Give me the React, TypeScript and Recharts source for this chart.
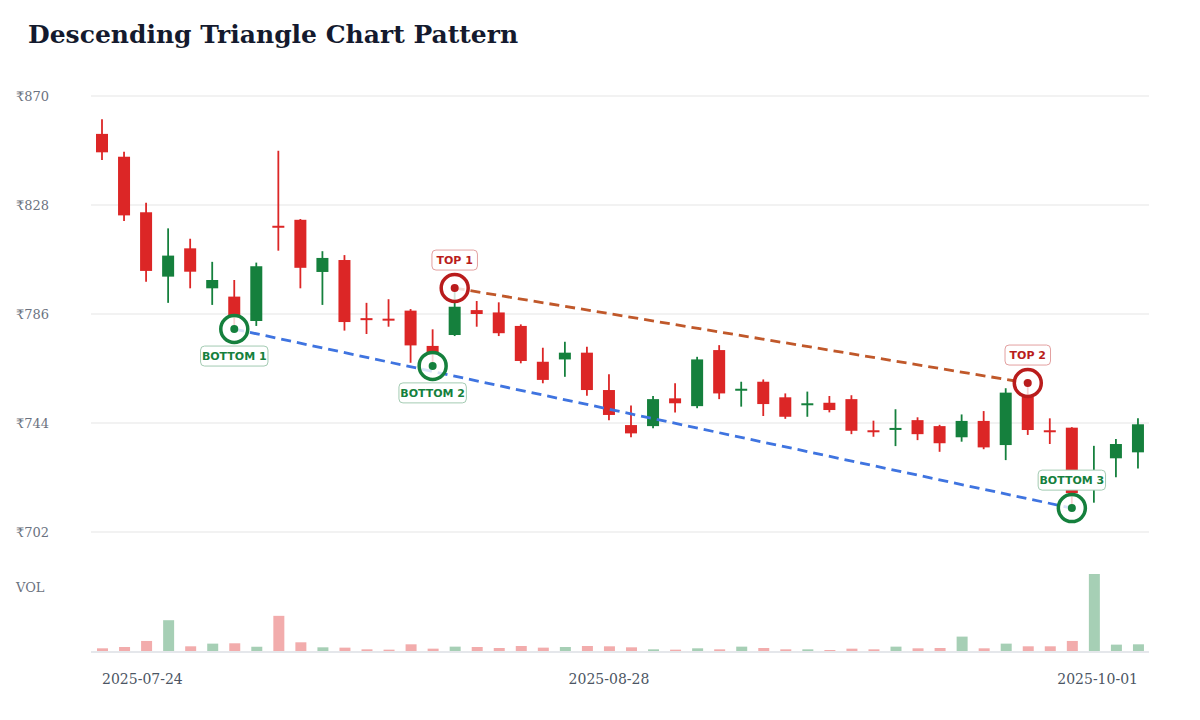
import { ComposedChart, Bar, XAxis, YAxis, CartesianGrid, ReferenceLine, ReferenceDot, Cell } from "recharts";

// trading days shown on the chart
const dates = [
  "2025-07-24", "2025-07-25", "2025-07-28", "2025-07-29", "2025-07-30", "2025-07-31",
  "2025-08-01", "2025-08-04", "2025-08-05", "2025-08-06", "2025-08-07", "2025-08-08",
  "2025-08-11", "2025-08-12", "2025-08-13", "2025-08-14", "2025-08-18", "2025-08-19",
  "2025-08-20", "2025-08-21", "2025-08-22", "2025-08-25", "2025-08-26", "2025-08-28",
  "2025-08-29", "2025-09-01", "2025-09-02", "2025-09-03", "2025-09-04", "2025-09-05",
  "2025-09-08", "2025-09-09", "2025-09-10", "2025-09-11", "2025-09-12", "2025-09-15",
  "2025-09-16", "2025-09-17", "2025-09-18", "2025-09-19", "2025-09-22", "2025-09-23",
  "2025-09-24", "2025-09-25", "2025-09-26", "2025-09-29", "2025-09-30", "2025-10-01",
];

const opens = [
  855.4, 846.6, 825.2, 800.4, 811.3, 795.9, 792.7, 783.3, 820.0, 822.3, 802.2, 806.8,
  784.4, 784.2, 787.3, 773.7, 777.9, 787.5, 786.6, 781.4, 767.6, 768.5, 771.1, 756.7,
  743.2, 742.8, 753.5, 750.5, 772.1, 756.8, 759.9, 753.9, 751.0, 751.8, 753.2, 741.2,
  741.7, 745.1, 742.8, 738.5, 744.8, 735.5, 754.1, 741.2, 742.2, 726.0, 730.4, 732.7,
];
const highs = [
  861.0, 848.5, 828.9, 819.0, 815.0, 806.1, 799.1, 805.8, 848.9, 822.6, 810.2, 808.7,
  790.3, 791.7, 787.9, 780.1, 796.0, 791.0, 790.5, 782.0, 773.0, 775.3, 773.4, 762.8,
  750.7, 754.4, 759.3, 769.5, 774.0, 759.9, 760.8, 755.4, 756.1, 754.4, 754.7, 744.9,
  749.3, 746.2, 743.3, 747.3, 748.6, 757.4, 759.4, 745.8, 742.4, 735.2, 737.8, 745.8,
];
const lows = [
  845.3, 821.8, 798.4, 790.3, 795.9, 789.5, 780.2, 781.4, 810.4, 795.9, 789.5, 779.6,
  778.3, 781.1, 767.2, 766.0, 777.5, 781.1, 777.5, 767.0, 759.3, 761.8, 754.5, 745.1,
  738.5, 742.0, 748.0, 749.7, 753.2, 750.3, 746.7, 745.6, 746.4, 748.1, 739.7, 738.7,
  735.1, 737.4, 732.9, 736.8, 733.9, 729.7, 739.4, 735.9, 711.2, 713.3, 723.1, 726.5,
];
const closes = [
  848.3, 824.0, 802.6, 808.5, 802.3, 799.1, 785.5, 804.4, 819.8, 803.8, 807.6, 782.9,
  784.1, 783.9, 773.9, 771.3, 788.8, 786.0, 778.6, 767.9, 760.6, 771.1, 756.7, 747.1,
  740.0, 753.2, 751.6, 768.5, 755.4, 757.2, 751.3, 746.4, 751.6, 749.0, 741.0, 740.8,
  742.1, 739.7, 736.2, 744.8, 734.6, 755.7, 741.3, 740.8, 717.0, 726.0, 735.9, 743.5,
];
// volume, thousands of shares
const volumes = [
  110, 150, 330, 950, 170, 250, 260, 160, 1080, 290, 140, 130,
  80, 70, 230, 100, 160, 150, 120, 180, 130, 150, 180, 170,
  140, 80, 70, 110, 80, 160, 120, 80, 80, 60, 100, 80,
  160, 110, 120, 460, 110, 250, 170, 170, 330, 2330, 220, 230,
];

const priceTicks = [702, 744, 786, 828, 870];
const dateTicks = [dates[0], dates[23], dates[47]];

// swing points (candle index)
const topPivots = [16, 42];
const bottomPivots = [6, 15, 44];

const RED = "#dc2626";
const GREEN = "#15803d";

const candles = dates.map((date, i) => ({
  date,
  open: opens[i],
  high: highs[i],
  low: lows[i],
  close: closes[i],
  volume: volumes[i],
}));

const Candle = (props: any) => {
  const { x, y, width, height, payload } = props;
  const { open, close, high, low } = payload;
  const k = height / (high - low);
  const toY = (p: number) => y + (high - p) * k;
  const cx = x + width / 2;
  const color = close >= open ? GREEN : RED;
  const top = toY(Math.max(open, close));
  const bh = open === close ? 0 : Math.max(toY(Math.min(open, close)) - top, 2);
  return (
    <g>
      <line x1={cx} x2={cx} y1={y} y2={y + height} stroke={color} strokeWidth={1.8} />
      {bh > 0 && <rect x={cx - 6} y={top} width={12} height={bh} fill={color} />}
    </g>
  );
};

const Pivot = ({ cx, cy, kind, text }: any) => {
  const color = kind === "top" ? "#b91c1c" : "#15803d";
  const border = kind === "top" ? "#e3a0a0" : "#a3cbb2";
  const above = kind === "top" || cy > 470;
  const ly = above ? cy - 28 : cy + 27;
  const w = text.length * 7.3 + 9;
  return (
    <g>
      <circle cx={cx} cy={cy} r={13.5} fill="#fff" fillOpacity={0.8} stroke={color} strokeWidth={3.5} />
      <circle cx={cx} cy={cy} r={4} fill={color} />
      <rect x={cx - w / 2} y={ly - 10} width={w} height={20} rx={4} fill="#fff" stroke={border} />
      <text x={cx} y={ly} dy={4} textAnchor="middle" fontFamily="DejaVu Sans" fontWeight="bold" fontSize={11} fill={color}>
        {text}
      </text>
    </g>
  );
};

const PriceTick = ({ y, payload }: any) => (
  <text x={16} y={y} dy={4.5} fill="#6b7280" fontSize={13} fontFamily="DejaVu Serif">
    ₹{payload.value}
  </text>
);

const DateTick = ({ x, y, payload }: any) => {
  const v = payload.value;
  const anchor = v === dates[0] ? "start" : v === dates[dates.length - 1] ? "end" : "middle";
  return (
    <text x={x} y={y} dy={24} textAnchor={anchor} fill="#4b5563" fontSize={14} fontFamily="DejaVu Serif">
      {v}
    </text>
  );
};

const App = () => {
  const t0 = topPivots[0];
  const t1 = topPivots[topPivots.length - 1];
  const b0 = bottomPivots[0];
  const b1 = bottomPivots[bottomPivots.length - 1];

  return (
    <div style={{ position: "relative", width: 1200, height: 720, background: "#fff" }}>
      <style>{`body { margin: 0; }`}</style>
      <div
        style={{
          position: "absolute",
          left: 28,
          top: 20,
          fontFamily: "DejaVu Serif",
          fontWeight: "bold",
          fontSize: 25,
          lineHeight: "30px",
          color: "#141a2e",
        }}
      >
        Descending Triangle Chart Pattern
      </div>

      <div style={{ position: "absolute", left: 0, top: 0 }}>
        <ComposedChart width={1200} height={560} data={candles} margin={{ top: 96, right: 51, bottom: 28, left: 16 }}>
          <CartesianGrid vertical={false} stroke="#eeeeee" strokeWidth={1.5} />
          <XAxis dataKey="date" hide />
          <YAxis
            domain={[702, 870]}
            ticks={priceTicks}
            width={75}
            axisLine={false}
            tickLine={false}
            tick={<PriceTick />}
          />
          <Bar dataKey={(d: any) => [d.low, d.high]} barSize={12} shape={<Candle />} isAnimationActive={false} />
          <ReferenceLine
            segment={[
              { x: dates[t0], y: highs[t0] },
              { x: dates[t1], y: highs[t1] },
            ]}
            stroke="#c0582a"
            strokeWidth={2.8}
            strokeDasharray="10 6"
          />
          <ReferenceLine
            segment={[
              { x: dates[b0], y: lows[b0] },
              { x: dates[b1], y: lows[b1] },
            ]}
            stroke="#3f74e0"
            strokeWidth={2.8}
            strokeDasharray="10 6"
          />
          {topPivots.map((idx, n) => (
            <ReferenceDot
              key={`top-${idx}`}
              x={dates[idx]}
              y={highs[idx]}
              shape={(p: any) => <Pivot cx={p.cx} cy={p.cy} kind="top" text={`TOP ${n + 1}`} />}
            />
          ))}
          {bottomPivots.map((idx, n) => (
            <ReferenceDot
              key={`bot-${idx}`}
              x={dates[idx]}
              y={lows[idx]}
              shape={(p: any) => <Pivot cx={p.cx} cy={p.cy} kind="bottom" text={`BOTTOM ${n + 1}`} />}
            />
          ))}
        </ComposedChart>
      </div>

      <div
        style={{
          position: "absolute",
          left: 16,
          top: 580,
          fontFamily: "DejaVu Serif",
          fontSize: 13,
          lineHeight: "16px",
          color: "#6b7280",
        }}
      >
        VOL
      </div>

      <div style={{ position: "absolute", left: 0, top: 560 }}>
        <ComposedChart width={1200} height={160} data={candles} margin={{ top: 14, right: 51, bottom: 38, left: 91 }}>
          <XAxis
            dataKey="date"
            ticks={dateTicks}
            interval={0}
            axisLine={{ stroke: "#e5e7eb", strokeWidth: 2 }}
            tickLine={false}
            tick={<DateTick />}
            height={30}
          />
          <YAxis hide domain={[0, "dataMax"]} />
          <Bar dataKey="volume" barSize={11} isAnimationActive={false}>
            {candles.map((c, i) => (
              <Cell key={`v-${i}`} fill={c.close >= c.open ? GREEN : RED} fillOpacity={0.38} />
            ))}
          </Bar>
        </ComposedChart>
      </div>
    </div>
  );
};

export default App;
